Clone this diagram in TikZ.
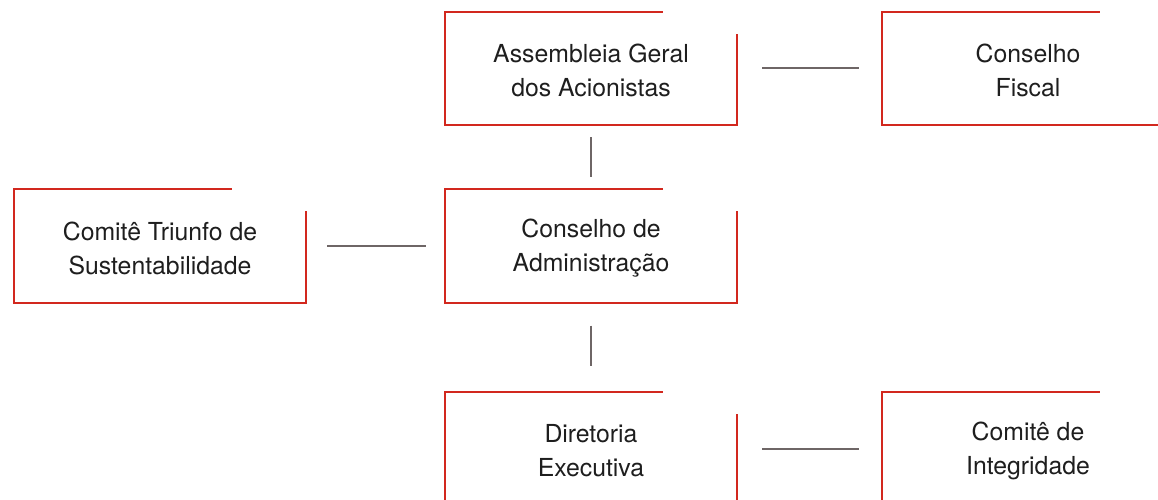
\documentclass[tikz,border=0pt]{standalone}
\usepackage{fontspec}
\setmainfont{TeX Gyre Heros}
\usetikzlibrary{calc}
\definecolor{boxred}{RGB}{210,40,30}
\definecolor{lnkgray}{RGB}{110,102,102}
\definecolor{txtcol}{RGB}{30,30,30}
\newcommand\openframe[1]{\draw[frame] ($(#1.north west)+(218,0)$) -- (#1.north west) -- (#1.south west) -- (#1.south east) -- ($(#1.north east)+(0,22)$);}
\begin{document}
\begin{tikzpicture}[x=1pt,y=-1pt,
 boxslot/.style={minimum width=292pt,minimum height=113pt,inner sep=0pt,draw=none},
 lbl/.style={font=\fontsize{24.8}{34}\selectfont, align=center, text=txtcol, inner sep=0pt},
 frame/.style={draw=boxred, line width=2pt},
 link/.style={draw=lnkgray, line width=2pt}]
\useasboundingbox (0,0) rectangle (1158,500);
\clip (0,0) rectangle (1158,500);
% box slots
\node[boxslot] (ag) at (591,68.5) {};
\node[boxslot] (cf) at (1028,68.5) {};
\node[boxslot] (cts) at (160,246) {};
\node[boxslot] (ca) at (591,246) {};
\node[boxslot] (de) at (591,448.5) {};
\node[boxslot] (ci) at (1028,448.5) {};
% frames
\openframe{ag}
\openframe{cf}
\openframe{cts}
\openframe{ca}
\openframe{de}
\openframe{ci}
% labels
\node[lbl] (agt) at ($(ag)+(0,2)$) {Assembleia Geral\\dos Acionistas};
\node[lbl] (cft) at ($(cf)+(0,2)$) {Conselho\\Fiscal};
\node[lbl] (ctst) at ($(cts)+(0,2)$) {Comitê Triunfo de\\Sustentabilidade};
\node[lbl] (cat) at ($(ca)+(0,2)$) {Conselho de\\Administração};
\node[lbl] (det) at ($(de)+(0,2)$) {Diretoria\\Executiva};
\node[lbl] (cit) at ($(ci)+(0,2)$) {Comitê de\\Integridade};
% connectors
\draw[link, shorten <=25pt, shorten >=23pt] (ag.east) -- (cf.west);
\draw[link, shorten <=12pt, shorten >=12pt] (ag.south) -- (ca.north);
\draw[link, shorten <=21pt, shorten >=19pt] (cts.east) -- (ca.west);
\draw[link, shorten <=23pt, shorten >=26pt] (ca.south) -- (de.north);
\draw[link, shorten <=25pt, shorten >=23pt] (de.east) -- (ci.west);
\end{tikzpicture}
\end{document}
